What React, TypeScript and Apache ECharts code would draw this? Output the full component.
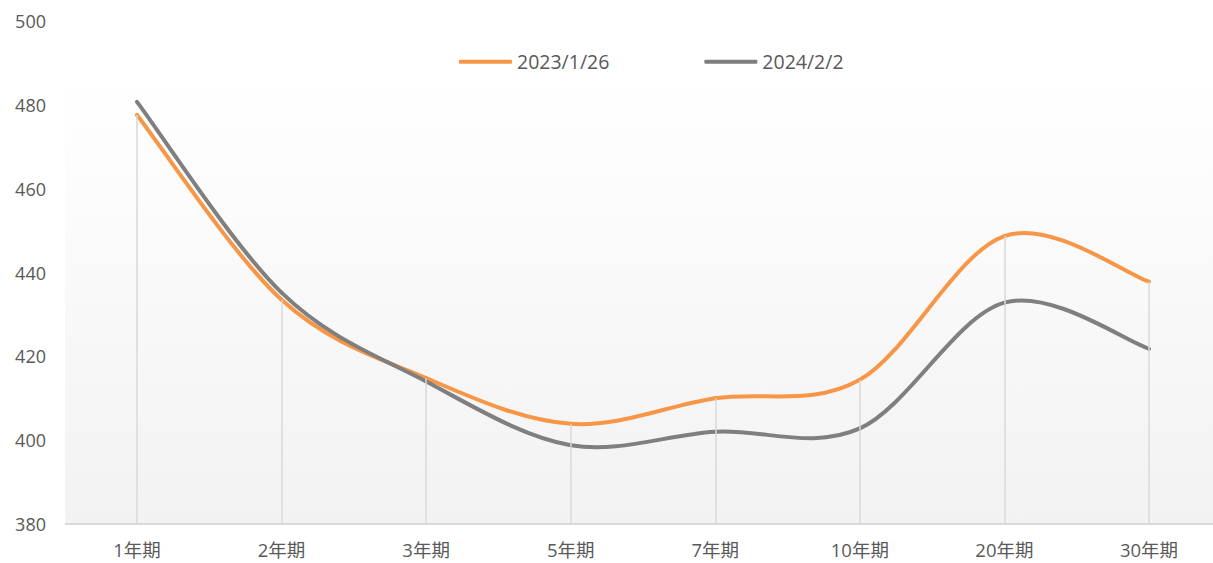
import React, { useEffect, useRef } from "react";
import * as echarts from "echarts";

const categories = ["1年期", "2年期", "3年期", "5年期", "7年期", "10年期", "20年期", "30年期"];
const seriesNames = ["2023/1/26", "2024/2/2"];
const series2023 = [477.6, 433.5, 414.8, 403.9, 410.0, 414.4, 448.7, 437.8];
const series2024 = [480.7, 435.2, 414.0, 398.8, 402.0, 402.8, 432.8, 421.8];
const yMin = 380;
const yMax = 500;
const yInterval = 20;

const ORANGE = "#F79646";
const GREY = "#7F7F7F";
const TEXT = "#595959";
const FONT = '"Open Sans", "Noto Sans CJK SC", sans-serif';

function smoothCurve(name: string, values: number[], color: string) {
  const n = values.length;
  const clampIdx = (k: number) => Math.max(0, Math.min(n - 1, k));
  return {
    name,
    type: "custom",
    z: 3,
    data: values.map((v, i) => [i, v]),
    encode: { x: 0, y: 1 },
    itemStyle: { color },
    renderItem: (params: any, api: any) => {
      const i = params.dataIndex;
      if (i >= n - 1) return { type: "group", children: [] };
      const pt = (k: number) => {
        const c = clampIdx(k);
        return api.coord([c, values[c]]);
      };
      const p0 = pt(i - 1);
      const p1 = pt(i);
      const p2 = pt(i + 1);
      const p3 = pt(i + 2);
      return {
        type: "bezierCurve",
        shape: {
          x1: p1[0],
          y1: p1[1],
          x2: p2[0],
          y2: p2[1],
          cpx1: p1[0] + (p2[0] - p0[0]) / 6,
          cpy1: p1[1] + (p2[1] - p0[1]) / 6,
          cpx2: p2[0] - (p3[0] - p1[0]) / 6,
          cpy2: p2[1] - (p3[1] - p1[1]) / 6,
        },
        style: { stroke: color, lineWidth: 4, fill: "none", lineCap: "round" },
      };
    },
  };
}

export default function App() {
  const ref = useRef<HTMLDivElement>(null);
  useEffect(() => {
    if (!ref.current) return;
    const chart = echarts.init(ref.current, undefined, { renderer: "svg" });
    const dropLines = categories.map((c, i) => [
      { coord: [c, series2023[i]] },
      { coord: [c, yMin] },
    ]);
    chart.setOption({
      animation: false,
      backgroundColor: "#ffffff",
      textStyle: { fontFamily: FONT },
      graphic: [
        {
          type: "rect",
          z: -10,
          silent: true,
          shape: { x: 65, y: 81, width: 1148, height: 443 },
          style: {
            fill: new echarts.graphic.LinearGradient(0, 0, 0, 1, [
              { offset: 0, color: "#ffffff" },
              { offset: 1, color: "#f2f2f2" },
            ]),
          },
        },
        {
          type: "line",
          z: 5,
          silent: true,
          shape: { x1: 65, y1: 524, x2: 1213, y2: 524 },
          style: { stroke: "#d9d9d9", lineWidth: 2 },
        },
      ],
      legend: {
        data: seriesNames,
        left: 459,
        top: 52,
        padding: 0,
        icon: "roundRect",
        itemWidth: 53,
        itemHeight: 4,
        itemGap: 95,
        textStyle: { color: TEXT, fontSize: 19.5, fontFamily: FONT },
      },
      grid: { left: 137, right: 64, top: 21, bottom: 39, containLabel: false },
      xAxis: {
        type: "category",
        data: categories,
        boundaryGap: false,
        axisLine: { show: false },
        axisTick: { show: false },
        axisLabel: { color: TEXT, fontSize: 18.5, lineHeight: 18, margin: 16, fontFamily: FONT },
        splitLine: { show: false },
      },
      yAxis: {
        type: "value",
        min: yMin,
        max: yMax,
        interval: yInterval,
        axisLine: { show: false },
        axisTick: { show: false },
        splitLine: { show: false },
        axisLabel: { color: TEXT, fontSize: 18, margin: 91, fontFamily: FONT },
      },
      series: [
        {
          name: "drop",
          type: "line",
          data: series2023,
          symbol: "none",
          z: 1,
          lineStyle: { opacity: 0 },
          silent: true,
          markLine: {
            silent: true,
            symbol: ["none", "none"],
            label: { show: false },
            lineStyle: { color: "#d9d9d9", width: 1.5, type: "solid" },
            data: dropLines,
          },
        },
        smoothCurve(seriesNames[0], series2023, ORANGE),
        smoothCurve(seriesNames[1], series2024, GREY),
      ],
    });
    return () => chart.dispose();
  }, []);
  return (
    <div
      ref={ref}
      style={{ position: "fixed", left: 0, top: 0, width: 1213, height: 563 }}
    />
  );
}
